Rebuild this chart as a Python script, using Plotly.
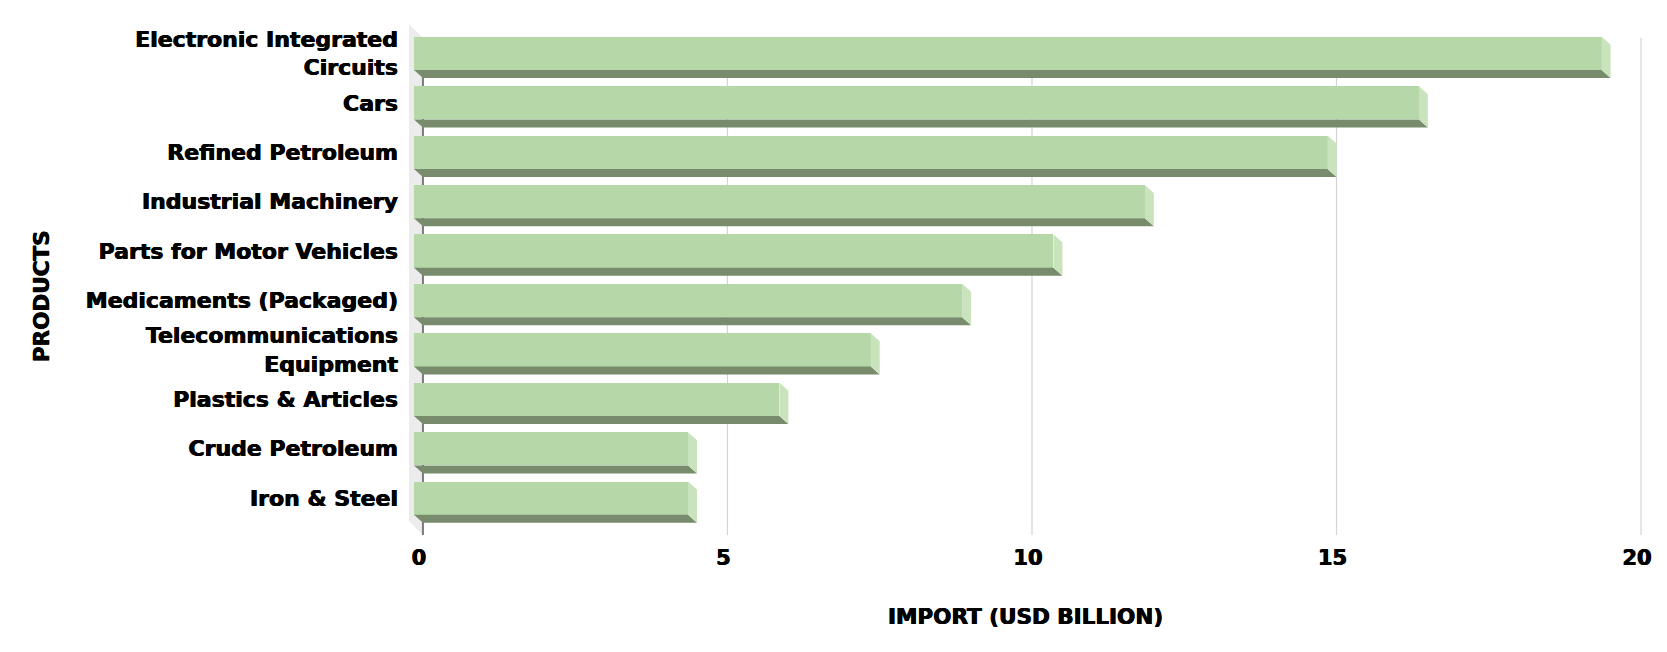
import plotly.graph_objects as go

# ---- data ----
products = [
    "Electronic Integrated<br>Circuits",
    "Cars",
    "Refined Petroleum",
    "Industrial Machinery",
    "Parts for Motor Vehicles",
    "Medicaments (Packaged)",
    "Telecommunications<br>Equipment",
    "Plastics & Articles",
    "Crude Petroleum",
    "Iron & Steel",
]
imports_busd = [19.5, 16.5, 15.0, 12.0, 10.5, 9.0, 7.5, 6.0, 4.5, 4.5]
x_ticks = [0, 5, 10, 15, 20]

# ---- geometry / style (page pixel coordinates) ----
PAGE_W, PAGE_H = 1667, 652
OFF = 8                               # browser default body margin
W, H = PAGE_W - 2 * OFF, PAGE_H - 2 * OFF
plot_left, plot_right = 405, 1652     # page px
plot_top, plot_bottom = 20, 540       # page px
plot_w = plot_right - plot_left
plot_h = plot_bottom - plot_top

px_per_x = 61.1
px_per_y = 49.42
x0_px = 423
xmin = -(x0_px - plot_left) / px_per_x
xmax = (plot_right - x0_px) / px_per_x
ybot_px, ytop_px = 498.2, 53.4
n = len(products)
ymin = -(plot_bottom - ybot_px) / px_per_y
ymax = (n - 1) + (ytop_px - plot_top) / px_per_y

dxu = 9 / px_per_x
dyu = 8 / px_per_y
hu = 33.3 / px_per_y

FRONT = "#b6d7a8"
BOTTOM = "#788b6c"
SIDE = "#c9e3bd"
WALL = "#ececec"
GRID = "#d4d4d4"
ZERO = "#7a7a7a"
FONT = "DejaVu Sans"
SHADOW = "0.45px 0 0 #000, -0.45px 0 0 #000"

pos = [n - 1 - i for i in range(n)]

fig = go.Figure()

bx, by, sx, sy = [], [], [], []
for p, v in zip(pos, imports_busd):
    yfb = p - hu / 2
    ybb = yfb - dyu
    yft = p + hu / 2
    bx += [-dxu, v - dxu, v, 0, -dxu, None]
    by += [yfb, yfb, ybb, ybb, yfb, None]
    sx += [v - dxu, v, v, v - dxu, v - dxu, None]
    sy += [yft, yft - dyu, ybb, yfb, yft, None]

fig.add_trace(go.Scatter(x=bx, y=by, fill="toself", mode="lines",
                         line=dict(width=0), fillcolor=BOTTOM,
                         hoverinfo="skip", showlegend=False))
fig.add_trace(go.Scatter(x=sx, y=sy, fill="toself", mode="lines",
                         line=dict(width=0), fillcolor=SIDE,
                         hoverinfo="skip", showlegend=False))
fig.add_trace(go.Bar(
    y=pos, x=imports_busd, base=[-dxu] * n, orientation="h",
    width=hu, marker=dict(color=FRONT, line=dict(width=0)),
    customdata=[p.replace("<br>", " ") for p in products],
    hovertemplate="%{customdata}: %{x}<extra></extra>",
    showlegend=False,
))

grid_top = (n - 1) + (ytop_px - 38) / px_per_y
grid_bot = -(535 - ybot_px) / px_per_y
wall_x = -(x0_px - 409) / px_per_x
wall_top_front = (n - 1) + (ytop_px - 24) / px_per_y
wall_bot_front = -(521 - ybot_px) / px_per_y
fig.add_shape(type="path", xref="x", yref="y", layer="below",
              path=f"M {wall_x} {wall_top_front} L 0 {grid_top} L 0 {grid_bot} "
                   f"L {wall_x} {wall_bot_front} Z",
              fillcolor=WALL, line=dict(width=0))
for t in x_ticks:
    fig.add_shape(type="line", xref="x", yref="y", layer="below",
                  x0=t, x1=t, y0=grid_bot, y1=grid_top,
                  line=dict(color=ZERO if t == 0 else GRID,
                            width=2 if t == 0 else 1.2))

fig.update_layout(
    width=W, height=H,
    margin=dict(l=plot_left - OFF, r=W - (plot_right - OFF),
                t=plot_top - OFF, b=H - (plot_bottom - OFF), pad=0),
    plot_bgcolor="white", paper_bgcolor="white",
    bargap=0, barmode="overlay",
    font=dict(family=FONT, color="black"),
    xaxis=dict(range=[xmin, xmax], tickvals=x_ticks, showgrid=False,
               zeroline=False, showline=False, ticks="",
               tickfont=dict(size=21, family=FONT, weight="bold", shadow=SHADOW),
               ticklabelstandoff=3, ticklabelshift=-4, fixedrange=True),
    yaxis=dict(range=[ymin, ymax], tickvals=pos, ticktext=products,
               showgrid=False, zeroline=False, showline=False, ticks="",
               tickfont=dict(size=22, family=FONT, weight="bold", shadow=SHADOW),
               ticklabelstandoff=6, fixedrange=True),
    annotations=[
        dict(text="IMPORT (USD BILLION)", xref="paper", yref="paper",
             x=(1027.6 - plot_left) / plot_w, y=-(616 - plot_bottom) / plot_h,
             showarrow=False, xanchor="center", yanchor="middle",
             font=dict(size=21.5, family=FONT, weight="bold", shadow=SHADOW)),
        dict(text="PRODUCTS", xref="paper", yref="paper",
             x=(40 - plot_left) / plot_w, y=(plot_bottom - 296) / plot_h,
             showarrow=False, xanchor="center", yanchor="middle",
             textangle=-90,
             font=dict(size=21.5, family=FONT, weight="bold", shadow=SHADOW)),
    ],
)

fig.write_html("out.html")
